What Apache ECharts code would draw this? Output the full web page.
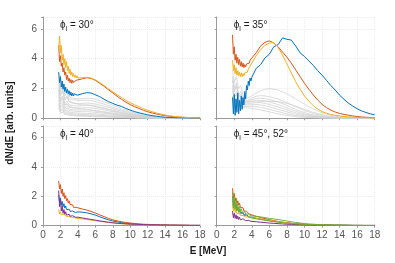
<!DOCTYPE html>
<html><head><meta charset="utf-8">
<script src="https://cdn.jsdelivr.net/npm/echarts@6/dist/echarts.min.js"></script>
<style>html,body{margin:0;padding:0;background:#fff}#c{width:395px;height:263px}</style>
</head><body><div id="c"></div>
<script>
// Energy grids (MeV)
const energyFine = [1.8,1.9,2.0,2.1,2.2,2.3,2.4,2.5,2.6,2.7,2.8,2.9,3.0,3.1,3.2,3.3,3.4,3.5,3.6,3.7,3.8,3.9,
  4,4.5,5,5.5,6,6.5,7,7.5,8,8.5,9,9.5,10,10.5,11,11.5,12,12.5,13,13.5,14,14.5,15,15.5,16,16.5,17,17.5,18];
const energyCoarse = [1.8,2,2.25,2.5,2.75,3,3.5,4,4.5,5,5.5,6,7,8,9,10,11,12,13,14,16,18];
const xTicks = [0,2,4,6,8,10,12,14,16,18];
const yTicks = [0,2,4,6];
const panelLabels = ['30°','35°','40°','45°, 52°'];

// phi = 30 deg
const p30_blue = [3.1,2.4,2.8,2.1,2.5,1.95,2.3,1.8,2.1,1.7,1.95,1.65,1.85,1.55,1.75,1.5,1.7,1.5,1.65,1.52,1.62,1.55,
  1.6,1.65,1.72,1.7,1.58,1.45,1.28,1.12,1.0,0.88,0.8,0.66,0.55,0.45,0.37,0.3,0.23,0.18,0.14,0.1,0.07,0.05,0.04,0.03,0.02,0.02,0.01,0.01,0.01];
const p30_orange = [4.9,3.8,4.2,3.5,3.7,3.1,3.4,2.9,3.1,2.6,2.9,2.5,2.7,2.4,2.6,2.35,2.55,2.4,2.5,2.45,2.55,2.5,
  2.58,2.65,2.72,2.68,2.55,2.35,2.15,1.92,1.7,1.48,1.27,1.08,0.92,0.78,0.66,0.54,0.44,0.36,0.29,0.23,0.18,0.14,0.11,0.08,0.06,0.05,0.04,0.03,0.02];
const p30_yellow = [4.6,5.5,4.4,4.9,3.9,4.3,3.6,4.0,3.4,3.8,3.2,3.5,3.0,3.3,2.9,3.1,2.8,3.0,2.75,2.9,2.7,2.85,
  2.7,2.72,2.75,2.7,2.58,2.4,2.2,1.98,1.78,1.58,1.4,1.2,1.05,0.9,0.78,0.65,0.54,0.44,0.36,0.28,0.22,0.17,0.13,0.1,0.08,0.06,0.05,0.04,0.03];
const p30_grey = [
  [2.8,2.0,2.4,1.7,1.9,1.45,1.35,1.3,1.32,1.35,1.34,1.28,1.1,0.88,0.65,0.45,0.3,0.18,0.1,0.05,0.01,0],
  [2.6,1.8,2.2,1.5,1.7,1.3,1.25,1.2,1.2,1.22,1.2,1.12,0.95,0.75,0.55,0.38,0.25,0.15,0.08,0.04,0.01,0],
  [2.4,1.6,1.9,1.3,1.5,1.15,1.05,0.95,0.9,0.88,0.84,0.78,0.65,0.5,0.36,0.24,0.15,0.08,0.04,0.02,0,0],
  [2.2,1.5,1.8,1.2,1.4,1.1,1.0,0.98,1.0,1.02,1.0,0.95,0.82,0.65,0.48,0.33,0.21,0.12,0.06,0.03,0.01,0],
  [2.0,1.3,1.5,1.0,1.15,0.9,0.85,0.82,0.85,0.9,0.88,0.82,0.7,0.55,0.4,0.27,0.17,0.1,0.05,0.02,0.01,0],
  [1.9,1.2,1.4,0.9,1.0,0.8,0.72,0.66,0.63,0.6,0.56,0.5,0.4,0.3,0.21,0.14,0.08,0.04,0.02,0.01,0,0],
  [1.8,1.1,1.3,0.85,0.95,0.75,0.7,0.68,0.7,0.72,0.7,0.66,0.56,0.44,0.32,0.22,0.14,0.08,0.04,0.02,0,0],
  [1.6,0.95,1.1,0.7,0.8,0.62,0.58,0.55,0.56,0.57,0.55,0.52,0.44,0.35,0.26,0.18,0.11,0.06,0.03,0.01,0,0],
  [1.4,0.8,0.95,0.6,0.68,0.52,0.48,0.45,0.45,0.45,0.43,0.4,0.34,0.27,0.2,0.14,0.09,0.05,0.02,0.01,0,0],
  [1.2,0.7,0.8,0.5,0.56,0.42,0.38,0.35,0.34,0.33,0.31,0.29,0.25,0.2,0.15,0.1,0.06,0.03,0.02,0.01,0,0],
  [1.0,0.55,0.65,0.4,0.45,0.33,0.3,0.27,0.26,0.25,0.23,0.21,0.18,0.14,0.1,0.07,0.04,0.02,0.01,0,0,0],
  [0.9,0.45,0.55,0.32,0.36,0.26,0.23,0.2,0.19,0.18,0.17,0.15,0.12,0.09,0.07,0.05,0.03,0.02,0.01,0,0,0],
  [0.7,0.35,0.42,0.25,0.28,0.2,0.17,0.15,0.14,0.13,0.12,0.11,0.09,0.07,0.05,0.03,0.02,0.01,0,0,0,0]
];

// phi = 35 deg
const p35_blue = [1.4,0.3,1.6,0.2,1.3,0.4,1.7,0.3,1.2,0.5,1.5,0.6,1.4,0.9,1.8,1.3,2.2,1.9,2.5,2.2,2.7,2.5,
  2.75,3.35,3.6,4.05,4.3,4.8,4.95,5.4,5.3,5.25,4.85,4.4,4.15,3.85,3.55,3.2,2.9,2.55,2.2,1.9,1.55,1.28,1.02,0.82,0.64,0.5,0.39,0.3,0.23];
const p35_orange = [5.6,4.3,4.8,3.9,4.3,3.7,4.1,3.6,3.95,3.5,3.8,3.45,3.7,3.4,3.6,3.45,3.65,3.55,3.75,3.7,3.9,3.9,
  4.0,4.4,4.85,5.1,5.2,5.05,4.8,4.45,4.1,3.7,3.25,2.8,2.35,1.95,1.57,1.23,0.94,0.72,0.55,0.42,0.33,0.26,0.21,0.16,0.12,0.09,0.07,0.05,0.04];
const p35_yellow = [3.9,3.2,3.6,3.0,3.4,2.9,3.2,2.85,3.1,2.8,3.05,2.8,3.0,2.85,3.05,2.95,3.15,3.1,3.3,3.3,3.5,3.55,
  3.7,4.2,4.6,4.9,5.05,5.1,4.75,4.25,3.65,3.05,2.45,1.95,1.5,1.15,0.85,0.62,0.45,0.34,0.26,0.2,0.16,0.12,0.1,0.08,0.06,0.05,0.04,0.03,0.03];
const p35_grey = [
  [3.2,2.4,2.8,2.0,2.2,1.5,1.35,1.5,1.7,1.85,1.95,2.0,1.9,1.65,1.3,0.95,0.62,0.37,0.2,0.1,0.03,0],
  [2.8,2.0,2.4,1.6,1.8,1.3,1.2,1.35,1.48,1.52,1.5,1.45,1.3,1.05,0.78,0.52,0.32,0.18,0.09,0.04,0.01,0],
  [2.6,1.9,2.2,1.5,1.6,1.2,1.1,1.1,1.1,1.12,1.14,1.15,1.12,1.0,0.82,0.6,0.4,0.24,0.13,0.06,0.01,0],
  [2.5,1.8,2.1,1.4,1.5,1.15,1.15,1.25,1.32,1.35,1.32,1.26,1.1,0.86,0.6,0.38,0.22,0.12,0.06,0.03,0,0],
  [2.2,1.6,1.8,1.25,1.3,1.05,1.08,1.15,1.2,1.2,1.17,1.1,0.92,0.7,0.48,0.3,0.17,0.09,0.04,0.02,0,0],
  [2.0,1.4,1.6,1.1,1.15,0.95,0.98,1.02,1.05,1.05,1.0,0.93,0.76,0.56,0.37,0.22,0.12,0.06,0.03,0.01,0,0],
  [1.8,1.2,1.4,1.0,1.05,0.88,0.9,0.92,0.93,0.9,0.85,0.77,0.6,0.43,0.27,0.16,0.08,0.04,0.02,0.01,0,0],
  [1.5,1.1,1.2,0.9,0.95,0.8,0.8,0.8,0.78,0.74,0.68,0.6,0.45,0.3,0.18,0.1,0.05,0.02,0.01,0,0,0],
  [1.3,0.95,1.05,0.8,0.85,0.72,0.7,0.67,0.62,0.56,0.5,0.43,0.3,0.19,0.11,0.06,0.03,0.01,0,0,0,0]
];

// phi = 40 deg
const p40_blue = [2.1,1.6,1.9,1.4,1.65,1.3,1.5,1.2,1.35,1.1,1.22,1.02,1.12,0.98,1.05,0.94,1.0,0.92,0.97,0.9,0.95,0.92,
  0.94,0.92,0.88,0.81,0.72,0.61,0.5,0.4,0.32,0.26,0.21,0.17,0.14,0.11,0.09,0.08,0.07,0.06,0.05,0.04,0.04,0.03,0.03,0.02,0.02,0.02,0.01,0.01,0.01];
const p40_orange = [3.05,2.5,2.8,2.2,2.5,2.0,2.25,1.85,2.05,1.7,1.85,1.55,1.7,1.45,1.55,1.32,1.42,1.25,1.32,1.18,1.25,1.15,
  1.18,1.14,1.07,0.97,0.86,0.74,0.62,0.5,0.4,0.33,0.27,0.22,0.18,0.15,0.12,0.1,0.09,0.08,0.07,0.06,0.05,0.04,0.04,0.03,0.03,0.03,0.02,0.02,0.02];
const p40_yellow = [1.1,0.8,0.95,0.75,0.85,0.7,0.78,0.66,0.72,0.62,0.68,0.6,0.64,0.57,0.61,0.55,0.58,0.53,0.56,0.51,0.53,0.5,
  0.5,0.46,0.42,0.38,0.34,0.3,0.26,0.22,0.19,0.16,0.13,0.11,0.09,0.08,0.07,0.06,0.05,0.05,0.04,0.04,0.04,0.03,0.03,0.03,0.03,0.02,0.02,0.02,0.02];
const p40_purple = [2.4,1.3,1.8,1.0,1.35,0.85,1.1,0.78,0.95,0.72,0.85,0.68,0.78,0.64,0.72,0.62,0.68,0.6,0.64,0.58,0.62,0.57,
  0.58,0.53,0.48,0.43,0.38,0.33,0.28,0.24,0.2,0.17,0.15,0.13,0.11,0.1,0.09,0.08,0.07,0.06,0.06,0.05,0.05,0.04,0.04,0.04,0.03,0.03,0.03,0.03,0.03];

// phi = 45, 52 deg
const p45_blue = [2.0,1.4,1.7,1.2,1.45,1.05,1.25,0.95,1.1,0.88,0.98,0.8,0.9,0.74,0.82,0.68,0.74,0.64,0.68,0.6,0.63,0.58,
  0.58,0.51,0.45,0.4,0.35,0.3,0.26,0.22,0.19,0.16,0.13,0.11,0.09,0.08,0.07,0.06,0.05,0.04,0.04,0.03,0.03,0.03,0.02,0.02,0.02,0.02,0.01,0.01,0.01];
const p45_orange = [2.55,1.9,2.2,1.7,1.9,1.5,1.7,1.4,1.55,1.25,1.38,1.12,1.22,1.0,1.08,0.92,0.98,0.85,0.9,0.8,0.84,0.76,
  0.74,0.64,0.56,0.48,0.41,0.35,0.29,0.24,0.2,0.16,0.13,0.11,0.09,0.07,0.06,0.05,0.04,0.04,0.03,0.03,0.02,0.02,0.02,0.02,0.01,0.01,0.01,0.01,0.01];
const p45_yellow = [1.5,1.0,1.25,0.9,1.05,0.82,0.92,0.75,0.84,0.7,0.76,0.66,0.7,0.62,0.66,0.6,0.63,0.58,0.6,0.56,0.58,0.55,
  0.56,0.5,0.46,0.41,0.36,0.32,0.28,0.24,0.2,0.16,0.13,0.1,0.08,0.07,0.06,0.05,0.04,0.04,0.03,0.03,0.03,0.02,0.02,0.02,0.02,0.02,0.01,0.01,0.01];
const p45_purple = [1.0,0.55,0.85,0.5,0.75,0.45,0.65,0.42,0.58,0.4,0.52,0.38,0.47,0.36,0.43,0.34,0.4,0.33,0.37,0.31,0.34,0.3,
  0.3,0.27,0.24,0.21,0.18,0.16,0.14,0.12,0.1,0.09,0.08,0.07,0.06,0.05,0.05,0.04,0.04,0.04,0.03,0.03,0.03,0.03,0.03,0.02,0.02,0.02,0.02,0.02,0.02];
const p45_green = [2.3,1.6,2.0,1.4,1.75,1.25,1.5,1.1,1.3,1.0,1.15,0.92,1.02,0.86,0.94,0.8,0.86,0.75,0.8,0.71,0.75,0.68,
  0.68,0.64,0.6,0.55,0.5,0.46,0.42,0.37,0.32,0.27,0.22,0.18,0.15,0.12,0.1,0.08,0.07,0.06,0.05,0.04,0.04,0.03,0.03,0.02,0.02,0.02,0.02,0.02,0.02];
const p52_green = [1.9,1.2,1.6,1.1,1.4,1.0,1.2,0.9,1.05,0.82,0.95,0.75,0.85,0.7,0.78,0.65,0.7,0.6,0.64,0.56,0.6,0.53,
  0.53,0.47,0.42,0.37,0.32,0.28,0.24,0.2,0.17,0.14,0.12,0.1,0.08,0.07,0.06,0.05,0.04,0.04,0.04,0.03,0.03,0.03,0.02,0.02,0.02,0.02,0.02,0.02,0.02];

const C = {blue:'#0072BD', orange:'#D95319', yellow:'#EDB120', purple:'#7E2F8E', green:'#77AC30', grey:'#d2d2d2'};
const FONT = '"Liberation Sans", Arial, Helvetica, sans-serif';

function pairs(xs, ys){ return xs.map((x,i)=>[x, ys[i]]); }
function line(idx, xs, ys, color, w){
  return {type:'line', xAxisIndex:idx, yAxisIndex:idx, data:pairs(xs,ys), showSymbol:false, symbol:'none',
    lineStyle:{color:color, width:w||1}, itemStyle:{color:color}, silent:true, z:2};
}

const grids = [
  {left:43, top:17, width:157, height:101.3},
  {left:216.7, top:17, width:158, height:101.3},
  {left:43, top:126, width:157, height:99.7},
  {left:216.7, top:126, width:158, height:99.7}
];
const axisCol = '#9a9a9a';
const xAxes = grids.map((g,i)=>({
  type:'value', gridIndex:i, min:xTicks[0], max:xTicks[xTicks.length-1], interval:2,
  axisLine:{show:true, onZero:false, lineStyle:{color:axisCol, width:1}},
  axisTick:{show:true, length:2, lineStyle:{color:axisCol}},
  axisLabel:{show:i>=2, color:'#555', fontSize:10, fontFamily:FONT, margin:5},
  splitLine:{show:true, lineStyle:{color:'#ececec', type:'dotted', width:1}}
}));
const yAxes = grids.map((g,i)=>({
  type:'value', gridIndex:i, min:0, max:6.8, interval:2,
  axisLine:{show:true, lineStyle:{color:axisCol, width:1}},
  axisTick:{show:true, length:2, lineStyle:{color:axisCol}},
  axisLabel:{show:(i%2===0), color:'#555', fontSize:10, fontFamily:FONT, margin:6,
    formatter:(v)=> yTicks.indexOf(v)>=0 ? String(v) : ''},
  splitLine:{show:true, lineStyle:{color:'#ececec', type:'dotted', width:1}}
}));

const series = [];
p30_grey.forEach(g=>series.push(line(0, energyCoarse, g, C.grey, 0.8)));
series.push(line(0, energyFine, p30_blue, C.blue));
series.push(line(0, energyFine, p30_orange, C.orange));
series.push(line(0, energyFine, p30_yellow, C.yellow));
p35_grey.forEach(g=>series.push(line(1, energyCoarse, g, C.grey, 0.8)));
series.push(line(1, energyFine, p35_blue, C.blue));
series.push(line(1, energyFine, p35_orange, C.orange));
series.push(line(1, energyFine, p35_yellow, C.yellow));
series.push(line(2, energyFine, p40_blue, C.blue));
series.push(line(2, energyFine, p40_orange, C.orange));
series.push(line(2, energyFine, p40_yellow, C.yellow));
series.push(line(2, energyFine, p40_purple, C.purple));
series.push(line(3, energyFine, p45_blue, C.blue));
series.push(line(3, energyFine, p45_orange, C.orange));
series.push(line(3, energyFine, p45_yellow, C.yellow));
series.push(line(3, energyFine, p45_purple, C.purple));
series.push(line(3, energyFine, p45_green, C.green));
series.push(line(3, energyFine, p52_green, C.green));

const titles = grids.map((g,i)=>({
  text:'{a|ϕ}{b|l}{a| = '+panelLabels[i]+'}',
  left:g.left+17, top:g.top, padding:0,
  textStyle:{fontWeight:'normal', rich:{
    a:{fontSize:10, fontWeight:'normal', fontFamily:FONT, color:'#1a1a1a', lineHeight:16, verticalAlign:'middle'},
    b:{fontSize:7, fontWeight:'normal', fontFamily:FONT, color:'#1a1a1a', lineHeight:7, verticalAlign:'bottom'}
  }}
}));

const chart = echarts.init(document.getElementById('c'), null, {renderer:'canvas'});
chart.setOption({
  animation:false,
  backgroundColor:'#fff',
  title:titles,
  grid:grids,
  xAxis:xAxes,
  yAxis:yAxes,
  series:series,
  graphic:[
    {type:'text', x:10, y:123, rotation:Math.PI/2, style:{text:'dN/dE [arb. units]', font:'bold 10px '+FONT, fill:'#1a1a1a', align:'center', verticalAlign:'middle'}},
    {type:'text', x:208, y:251, style:{text:'E [MeV]', font:'bold 10px '+FONT, fill:'#1a1a1a', align:'center', verticalAlign:'middle'}}
  ]
});
</script>
</body></html>
